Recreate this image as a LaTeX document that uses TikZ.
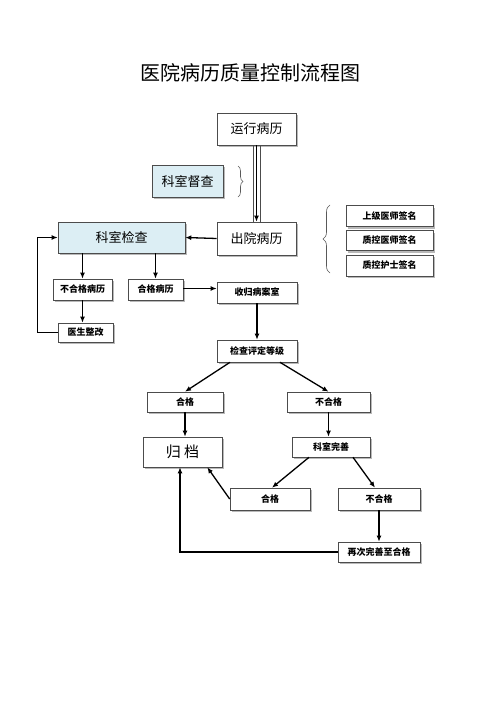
\documentclass[tikz,border=0pt]{standalone}
\usepackage{fontspec}
\newfontfamily\cjk{Noto Sans CJK SC}
\usetikzlibrary{shadows, arrows.meta, decorations.pathreplacing}

\definecolor{boxblue}{RGB}{220,238,244}
\tikzset{
  box/.style={draw=gray!60!black, line width=0.6pt, fill=white, inner sep=0pt,
    drop shadow={shadow xshift=2pt, shadow yshift=-2pt, fill=gray!55, opacity=1},
    font=\cjk\fontsize{13}{15}\selectfont},
  smallbox/.style={box, font=\cjk\bfseries\fontsize{9}{11}\selectfont},
  bluebox/.style={box, fill=boxblue},
  arr/.style={-{Latex[length=6pt,width=5pt]}, line width=1.3pt, black},
  bracestyle/.style={decorate, gray!70!black, line width=0.6pt}
}

\begin{document}
\begin{tikzpicture}[x=1pt, y=-1pt]
        \useasboundingbox (0,0) rectangle (500,707);
        \node (title) at (250,73) {\cjk\fontsize{20}{24}\selectfont 医院病历质量控制流程图};

        % Top part
        \node[box, minimum width=79, minimum height=32] (yx) at (256.5,129) {运行病历};
        \node[bluebox, minimum width=71, minimum height=32] (dc) at (187.5,181) {科室督查};
        \node[box, minimum width=79, minimum height=33] (cy) at (256.5,238.5) {出院病历};
        \node[bluebox, minimum width=127, minimum height=31] (jc) at (121.5,237.5) {科室检查};

        \node[smallbox, minimum width=87, minimum height=21] (sj1) at (389.5,216) {上级医师签名};
        \node[smallbox, minimum width=87, minimum height=20] (sj2) at (389.5,240.5) {质控医师签名};
        \node[smallbox, minimum width=87, minimum height=21] (sj3) at (389.5,265.5) {质控护士签名};

        % Braces
        \draw[bracestyle, decoration={brace, amplitude=5pt}] (238,166) -- (238,197);
        \draw[bracestyle, decoration={brace, amplitude=7pt}] (330,273) -- (330,205);

        % Department check
        \node[smallbox, minimum width=59, minimum height=21] (bhg) at (82.5,289.5) {不合格病历};
        \node[smallbox, minimum width=55, minimum height=21] (hg) at (155.5,289.5) {合格病历};
        \node[smallbox, minimum width=80, minimum height=21] (sg) at (257,292.5) {收归病案室};
        \node[smallbox, minimum width=55, minimum height=19] (zg) at (85.5,332.5) {医生整改};

        % Grading
        \node[smallbox, minimum width=80, minimum height=22] (pd) at (257,351) {检查评定等级};
        \node[smallbox, minimum width=76, minimum height=20] (hg2) at (185,402) {合格};
        \node[smallbox, minimum width=83, minimum height=20] (bhg2) at (328.5,402) {不合格};
        \node[box, minimum width=79, minimum height=30, font=\cjk\fontsize{15}{17}\selectfont] (gd) at (182.5,452) {归\ 档};
        \node[smallbox, minimum width=78, minimum height=20] (ws) at (331,447) {科室完善};
        \node[smallbox, minimum width=80, minimum height=22] (hg3) at (270,499) {合格};
        \node[smallbox, minimum width=82, minimum height=22] (bhg3) at (379,499) {不合格};
        \node[smallbox, minimum width=82, minimum height=20] (zc) at (379,552) {再次完善至合格};

        % Lines
        \draw[gray!60!black, line width=0.6pt] ([xshift=-3.5]yx.south) -- ([xshift=-3.5]cy.north);
        \draw[gray!60!black, line width=0.6pt] ([xshift=3.5]yx.south) -- ([xshift=3.5]cy.north);
        \draw[arr] (yx.south) -- (cy.north);
        \draw[arr] (cy.west) -- (jc.east);

        \draw[arr] (jc.south -| bhg.north) -- (bhg.north);
        \draw[arr] (jc.south -| hg.north) -- (hg.north);
        \draw[arr] (bhg.south) -- (bhg.south |- zg.north);
        \draw[arr] (zg.west) -- ++(-20,0) |- (jc.west);
        \draw[arr] ([yshift=1]hg.east) -- ([yshift=1]hg.east -| sg.west);
        \draw[arr] (sg.south) -- (pd.north);

        \draw[arr] ([xshift=-27]pd.south) -- (hg2.north);
        \draw[arr] ([xshift=23]pd.south) -- (bhg2.north);
        \draw[arr] (hg2.south) -- (hg2.south |- gd.north);
        \draw[arr] (bhg2.south) -- (bhg2.south |- ws.north);

        \draw[arr] ([xshift=-22]ws.south) -- ([xshift=2]hg3.north);
        \draw[arr] ([xshift=22]ws.south) -- ([xshift=-4]bhg3.north);
        \draw[arr] (hg3.west) -- ([xshift=-15]gd.south east);
        \draw[arr] (bhg3.south) -- (zc.north);
        \draw[arr] (zc.west) -| ([xshift=-2.5]gd.south);
\end{tikzpicture}
\end{document}
